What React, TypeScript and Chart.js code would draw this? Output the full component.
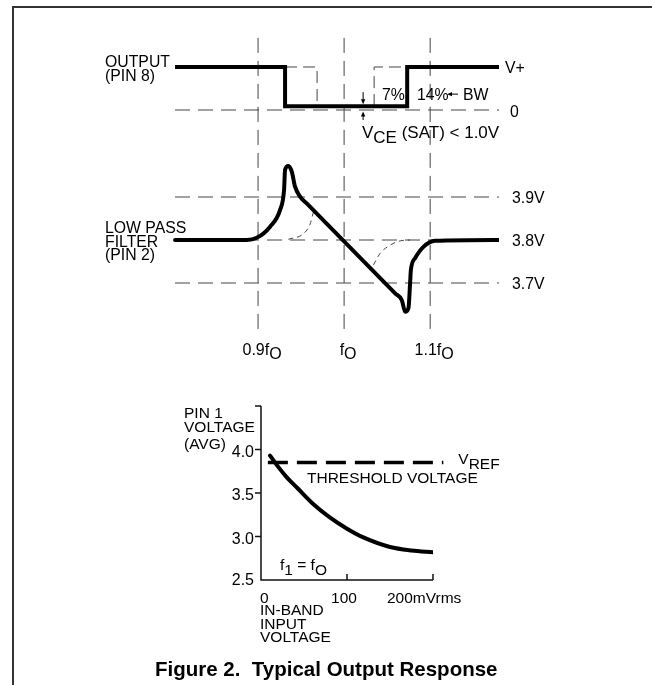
import { useEffect, useRef } from "react";
import { Chart, registerables } from "chart.js";

Chart.register(...registerables);

const FONT = '"Liberation Sans", Arial, Helvetica, sans-serif';

// ---------- Top panel: response vs. input frequency (f / fO) ----------
const freqGrid = [0.9, 1.0, 1.1];
const freqLabelMain = ["0.9f", "f", "1.1f"];
const freqLabelSub = ["O", "O", "O"];
const sweepRange = [0.8035, 1.18];
const gridSpanV = [4.27, 3.575];

// Output (pin 8): 1 = V+, 0 = ground
const outputX = [0.8035, 0.9314, 0.9314, 1.0733, 1.0733, 1.18];
const outputY = [1, 1, 0.09, 0.09, 1, 1];
const bw7LeftX = [0.9314, 0.9686, 0.9686];
const bw7LeftY = [1, 1, 0.09];
const bw7RightX = [1.0349, 1.0349, 1.0733];
const bw7RightY = [0.09, 1, 1];
const outputZero = 0;
const outputSat = 0.09;

// Low pass filter (pin 2), volts
const lpLevels = [3.9, 3.8, 3.7];
const lpLevelLabels = ["3.9V", "3.8V", "3.7V"];
const lpX = [0.8035, 0.8869, 0.8985, 0.914, 0.9256, 0.9302, 0.9314, 0.9352, 0.9392, 0.943, 0.9488, 0.9566, 1.0593, 1.0671, 1.0709, 1.0748, 1.0767, 1.0776, 1.0826, 1.0922, 1.1058, 1.18];
const lpY = [3.8, 3.8, 3.805, 3.831, 3.87, 3.916, 3.963, 3.972, 3.959, 3.924, 3.901, 3.885, 3.676, 3.66, 3.633, 3.642, 3.7, 3.73, 3.758, 3.784, 3.798, 3.8];
const lpAltAX = [0.9352, 0.9523, 0.9605, 0.9643];
const lpAltAY = [3.8016, 3.814, 3.837, 3.865];
const lpAltBX = [1.0341, 1.0419, 1.0535, 1.0651, 1.0767];
const lpAltBY = [3.742, 3.769, 3.788, 3.798, 3.8];

// ---------- Bottom panel: pin 1 voltage vs in-band input ----------
const inputMv = [10.5, 20, 30, 42, 60, 80, 100, 119, 150, 175, 200];
const pin1V = [3.93, 3.8, 3.68, 3.56, 3.38, 3.22, 3.09, 2.99, 2.88, 2.84, 2.82];
const thresholdMv = [8, 212];
const thresholdV = 3.85;
const yTicks = [2.5, 3.0, 3.5, 4.0, 4.5];
const yTickLabels = ["2.5", "3.0", "3.5", "4.0", ""];
const xTicks = [0, 100, 200];
const xTickLabels = ["0", "100", "200mVrms"];

type Seg = { t: string; dy?: number };

function drawRich(ctx: CanvasRenderingContext2D, segs: Seg[], x: number, y: number, align: "left" | "center" | "right", size: number, bold = false) {
  ctx.font = `${bold ? "bold " : ""}${size}px ${FONT}`;
  const widths = segs.map((s) => ctx.measureText(s.t).width);
  const total = widths.reduce((a, b) => a + b, 0);
  let cx = align === "left" ? x : align === "center" ? x - total / 2 : x - total;
  ctx.textAlign = "left";
  ctx.textBaseline = "middle";
  segs.forEach((s, i) => {
    ctx.fillText(s.t, cx, y + (s.dy || 0));
    cx += widths[i];
  });
}

function vArrow(ctx: CanvasRenderingContext2D, x: number, from: number, to: number) {
  const dir = to > from ? 1 : -1;
  ctx.beginPath();
  ctx.moveTo(x, from);
  ctx.lineTo(x, to - dir * 4);
  ctx.stroke();
  ctx.beginPath();
  ctx.moveTo(x, to);
  ctx.lineTo(x - 2.2, to - dir * 5);
  ctx.lineTo(x + 2.2, to - dir * 5);
  ctx.closePath();
  ctx.fill();
}

function hArrow(ctx: CanvasRenderingContext2D, y: number, from: number, to: number) {
  const dir = to > from ? 1 : -1;
  ctx.beginPath();
  ctx.moveTo(from, y);
  ctx.lineTo(to - dir * 4, y);
  ctx.stroke();
  ctx.beginPath();
  ctx.moveTo(to, y);
  ctx.lineTo(to - dir * 5, y - 2.2);
  ctx.lineTo(to - dir * 5, y + 2.2);
  ctx.closePath();
  ctx.fill();
}

const pts = (xs: number[], ys: number[]) => xs.map((x, i) => ({ x, y: ys[i] }));

const thinDash = { borderColor: "#444", borderWidth: 1, borderDash: [15, 8], pointRadius: 0, tension: 0, order: 2 };
const fineDash = { borderColor: "#444", borderWidth: 1, borderDash: [5, 4], pointRadius: 0, order: 2 };

const topTextPlugin = {
  id: "topText",
  afterDraw(chart: any) {
    const ctx: CanvasRenderingContext2D = chart.ctx;
    const xs = chart.scales.x;
    const yo = chart.scales.yOut;
    const yl = chart.scales.yLP;
    const area = chart.chartArea;
    ctx.save();
    ctx.fillStyle = "#000";
    ctx.strokeStyle = "#000";
    ctx.lineWidth = 1;
    const fs = 15.8;
    const hi = yo.getPixelForValue(1);
    const zero = yo.getPixelForValue(outputZero);
    const sat = yo.getPixelForValue(outputSat);
    drawRich(ctx, [{ t: "OUTPUT" }], 105, hi - 4, "left", fs);
    drawRich(ctx, [{ t: "(PIN 8)" }], 105, hi + 9.5, "left", fs);
    drawRich(ctx, [{ t: "V+" }], area.right + 6, hi + 2, "left", fs);
    drawRich(ctx, [{ t: "0" }], area.right + 11, zero + 3, "left", fs);
    // 7% / 14% bandwidth marks
    drawRich(ctx, [{ t: "7%" }], 382, sat - 10, "left", fs);
    drawRich(ctx, [{ t: "14%" }], 417, sat - 10, "left", fs);
    hArrow(ctx, sat - 12, 458, 447);
    drawRich(ctx, [{ t: "BW" }], 463, sat - 10, "left", fs);
    const ax = xs.getPixelForValue(1.0221);
    vArrow(ctx, ax, sat - 14, sat - 2);
    vArrow(ctx, ax, zero + 10, zero + 1.5);
    drawRich(ctx, [{ t: "V" }, { t: "CE", dy: 5 }, { t: " (SAT) < 1.0V" }], 362, zero + 23, "left", 17);
    // Low pass filter
    const mid = yl.getPixelForValue(3.8);
    drawRich(ctx, [{ t: "LOW PASS" }], 105, mid - 11, "left", fs);
    drawRich(ctx, [{ t: "FILTER" }], 105, mid + 2.5, "left", fs);
    drawRich(ctx, [{ t: "(PIN 2)" }], 105, mid + 16, "left", fs);
    lpLevels.forEach((lv, i) => {
      drawRich(ctx, [{ t: lpLevelLabels[i] }], area.right + 13, yl.getPixelForValue(lv) + 2, "left", fs);
    });
    freqGrid.forEach((f, i) => {
      drawRich(ctx, [{ t: freqLabelMain[i] }, { t: freqLabelSub[i], dy: 4 }], xs.getPixelForValue(f) + 4, 351, "center", 16);
    });
    ctx.restore();
  },
};

const bottomPlugin = {
  id: "bottomAxes",
  afterDraw(chart: any) {
    const ctx: CanvasRenderingContext2D = chart.ctx;
    const xs = chart.scales.x;
    const ys = chart.scales.y;
    const area = chart.chartArea;
    ctx.save();
    ctx.strokeStyle = "#111";
    ctx.fillStyle = "#000";
    ctx.lineWidth = 1.5;
    ctx.beginPath();
    ctx.moveTo(area.left, ys.getPixelForValue(4.5));
    ctx.lineTo(area.left, area.bottom);
    ctx.lineTo(xs.getPixelForValue(200), area.bottom);
    ctx.stroke();
    yTicks.forEach((v, i) => {
      const py = ys.getPixelForValue(v);
      if (i > 0) {
        ctx.beginPath();
        ctx.moveTo(area.left - 6, py);
        ctx.lineTo(area.left, py);
        ctx.stroke();
      }
      if (yTickLabels[i]) drawRich(ctx, [{ t: yTickLabels[i] }], area.left - 7, py + (i > 0 ? 3 : 1), "right", 16);
    });
    xTicks.forEach((v, i) => {
      const px = xs.getPixelForValue(v);
      if (i > 0) {
        ctx.beginPath();
        ctx.moveTo(px, area.bottom);
        ctx.lineTo(px, area.bottom - 6);
        ctx.stroke();
      }
      const lx = i === 0 ? px - 1 : i === 1 ? px - 3 : px - 46;
      drawRich(ctx, [{ t: xTickLabels[i] }], lx, area.bottom + 19, i === 1 ? "center" : "left", 15.5);
    });
    const fs = 15.5;
    drawRich(ctx, [{ t: "PIN 1" }], 184, 414 - 380, "left", fs);
    drawRich(ctx, [{ t: "VOLTAGE" }], 184, 428 - 380, "left", fs);
    drawRich(ctx, [{ t: "(AVG)" }], 184, 445 - 380, "left", fs);
    drawRich(ctx, [{ t: "IN-BAND" }], area.left - 1, area.bottom + 31, "left", fs);
    drawRich(ctx, [{ t: "INPUT" }], area.left - 1, area.bottom + 44.5, "left", fs);
    drawRich(ctx, [{ t: "VOLTAGE" }], area.left - 1, area.bottom + 58, "left", fs);
    const thr = ys.getPixelForValue(thresholdV);
    drawRich(ctx, [{ t: "V" }, { t: "REF", dy: 5 }], xs.getPixelForValue(thresholdMv[1]) + 15, thr - 3, "left", fs);
    drawRich(ctx, [{ t: "THRESHOLD VOLTAGE" }], 307, thr + 16, "left", fs);
    drawRich(ctx, [{ t: "f" }, { t: "1", dy: 5 }, { t: " = f" }, { t: "O", dy: 5 }], 280, area.bottom - 14, "left", fs);
    ctx.restore();
  },
};

export default function App() {
  const topRef = useRef<HTMLCanvasElement>(null);
  const botRef = useRef<HTMLCanvasElement>(null);

  useEffect(() => {
    const topDatasets: any[] = [];
    freqGrid.forEach((f) => topDatasets.push({ ...thinDash, data: pts([f, f], gridSpanV), yAxisID: "yLP" }));
    lpLevels.forEach((lv) => topDatasets.push({ ...thinDash, data: pts(sweepRange, [lv, lv]), yAxisID: "yLP" }));
    topDatasets.push({ ...thinDash, data: pts(sweepRange, [outputZero, outputZero]), yAxisID: "yOut" });
    topDatasets.push({ ...thinDash, borderDash: [12, 6], data: pts(bw7LeftX, bw7LeftY), yAxisID: "yOut" });
    topDatasets.push({ ...thinDash, borderDash: [12, 6], data: pts(bw7RightX, bw7RightY), yAxisID: "yOut" });
    topDatasets.push({ ...fineDash, data: pts(lpAltAX, lpAltAY), yAxisID: "yLP", cubicInterpolationMode: "monotone" });
    topDatasets.push({ ...fineDash, data: pts(lpAltBX, lpAltBY), yAxisID: "yLP", cubicInterpolationMode: "monotone" });
    topDatasets.push({
      data: pts(outputX, outputY), yAxisID: "yOut", borderColor: "#000", borderWidth: 4,
      pointRadius: 0, tension: 0, borderJoinStyle: "miter", borderCapStyle: "butt", order: 0,
    });
    topDatasets.push({
      data: pts(lpX, lpY), yAxisID: "yLP", borderColor: "#000", borderWidth: 4,
      pointRadius: 0, cubicInterpolationMode: "monotone", borderCapStyle: "round", borderJoinStyle: "round", order: 0,
    });

    const top = new Chart(topRef.current!, {
      type: "line",
      data: { datasets: topDatasets },
      options: {
        animation: false,
        responsive: false,
        layout: { padding: { left: 172, right: 153, top: 25, bottom: 27.5 } },
        scales: {
          x: { type: "linear", display: false, min: 0.8, max: 1.18 },
          yLP: { type: "linear", display: false, min: 3.55, max: 4.3 },
          yOut: { type: "linear", display: false, min: -5.5233, max: 1.9767 },
        },
        plugins: { legend: { display: false }, tooltip: { enabled: false } },
      },
      plugins: [topTextPlugin],
    } as any);

    const bot = new Chart(botRef.current!, {
      type: "line",
      data: {
        datasets: [
          {
            data: pts(inputMv, pin1V), borderColor: "#000", borderWidth: 4, pointRadius: 0,
            cubicInterpolationMode: "monotone", borderCapStyle: "round",
          },
          {
            data: pts(thresholdMv, [thresholdV, thresholdV]), borderColor: "#000", borderWidth: 3.5,
            borderDash: [20, 9], pointRadius: 0, clip: false,
          },
        ],
      },
      options: {
        animation: false,
        responsive: false,
        layout: { padding: { left: 261, right: 219, top: 26, bottom: 80 } },
        scales: {
          x: { type: "linear", display: false, min: 0, max: 200 },
          y: { type: "linear", display: false, min: 2.5, max: 4.5 },
        },
        plugins: { legend: { display: false }, tooltip: { enabled: false } },
      },
      plugins: [bottomPlugin],
    } as any);

    return () => {
      top.destroy();
      bot.destroy();
    };
  }, []);

  return (
    <div style={{ position: "absolute", left: 0, top: 0, width: 652, height: 685, overflow: "hidden", background: "#fff" }}>
      <div style={{ position: "absolute", left: 12, top: 6, width: 700, height: 700, borderLeft: "2px solid #333", borderTop: "2px solid #333" }} />
      <canvas ref={topRef} width={652} height={375} style={{ position: "absolute", left: 0, top: 0, width: 652, height: 375 }} />
      <canvas ref={botRef} width={652} height={280} style={{ position: "absolute", left: 0, top: 380, width: 652, height: 280 }} />
      <div style={{ position: "absolute", left: 155, top: 658, font: `bold 20.5px ${FONT}`, whiteSpace: "pre", lineHeight: "21px", color: "#000" }}>
        Figure 2.  Typical Output Response
      </div>
    </div>
  );
}
